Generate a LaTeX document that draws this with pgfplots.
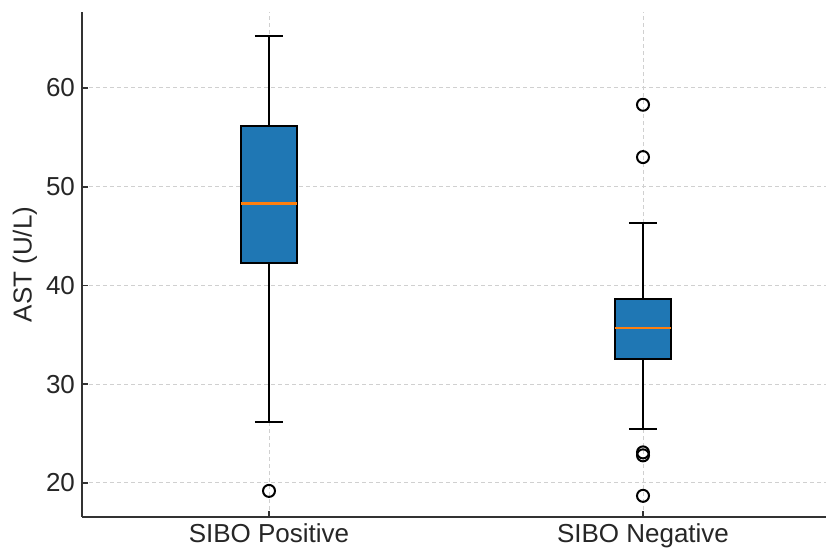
\documentclass[border=0pt]{standalone}
\usepackage{pgfplots}
\pgfplotsset{compat=1.18}
\usepackage{fontspec}
\setmainfont{Liberation Sans}
\definecolor{mplblue}{HTML}{1F77B4}
\definecolor{mplorange}{HTML}{FF7F0E}
\definecolor{spine}{HTML}{333333}
\definecolor{gridc}{HTML}{D0D0D0}
\begin{document}
\begin{tikzpicture}
\begin{axis}[
  at={(0,0)}, anchor=south west,
  scale only axis,
  width=374pt, height=252.5pt,
  xmin=0.5, xmax=2.5,
  ymin=16.557, ymax=67.696,
  axis x line*=bottom, axis y line*=left,
  axis line style={spine, line width=1.1pt, -},
  xtick={1,2},
  xticklabels={SIBO Positive, SIBO Negative},
  ytick={20,30,40,50,60},
  tick align=inside,
  major tick length=3pt,
  tick style={spine, line width=0.8pt},
  grid=major,
  major grid style={gridc, dashed, dash pattern=on 2pt off 1.5pt, line width=0.5pt},
  /pgf/number format/assume math mode=true,
  ticklabel style={font=\fontsize{13}{15}\selectfont, text=black!85},
  ylabel={AST (U/L)},
  ylabel style={at={(axis description cs:-0.0762,0.5)}, anchor=center, font=\fontsize{13}{15}\selectfont, text=black!85},
  wh/.style={black, line width=1pt, mark=none},
]
% SIBO Positive: lower whisker 26.2, Q1 42.3, median 48.3, Q3 56.2, upper whisker 65.3
\addplot[wh] coordinates {(1,26.2) (1,42.3)};
\addplot[wh] coordinates {(1,56.2) (1,65.3)};
\addplot[wh] coordinates {(0.9625,26.2) (1.0375,26.2)};
\addplot[wh] coordinates {(0.9625,65.3) (1.0375,65.3)};
\addplot[draw=black, fill=mplblue, line width=1pt, mark=none]
  coordinates {(0.925,42.3) (1.075,42.3) (1.075,56.2) (0.925,56.2) (0.925,42.3)} -- cycle;
\addplot[mplorange, line width=1.1pt, mark=none] coordinates {(0.925,48.3) (1.075,48.3)};
% SIBO Negative: lower whisker 25.5, Q1 32.6, median 35.7, Q3 38.6, upper whisker 46.3
\addplot[wh] coordinates {(2,25.5) (2,32.6)};
\addplot[wh] coordinates {(2,38.6) (2,46.3)};
\addplot[wh] coordinates {(1.9625,25.5) (2.0375,25.5)};
\addplot[wh] coordinates {(1.9625,46.3) (2.0375,46.3)};
\addplot[draw=black, fill=mplblue, line width=1pt, mark=none]
  coordinates {(1.925,32.6) (2.075,32.6) (2.075,38.6) (1.925,38.6) (1.925,32.6)} -- cycle;
\addplot[mplorange, line width=1.1pt, mark=none] coordinates {(1.925,35.7) (2.075,35.7)};
% outliers
\addplot[only marks, mark=o, mark size=3pt, mark options={draw=black, line width=1pt, fill=none}]
  coordinates {(1,19.2) (2,58.3) (2,53.0) (2,23.1) (2,22.8) (2,18.7)};
\end{axis}
\pgfresetboundingbox
\path[use as bounding box] (-41pt,-17pt) rectangle (372pt,258.5pt);
\end{tikzpicture}
\end{document}
